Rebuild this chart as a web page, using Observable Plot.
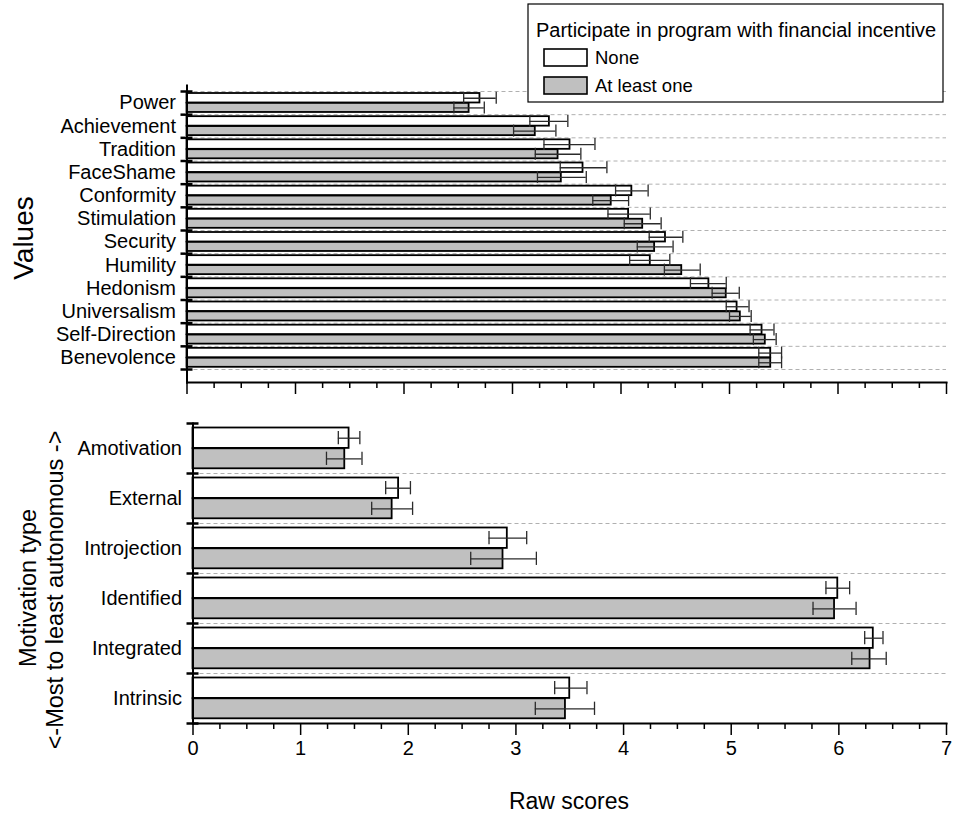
<!DOCTYPE html>
<html><head><meta charset="utf-8">
<script src="https://cdn.jsdelivr.net/npm/d3@7"></script>
<script src="https://cdn.jsdelivr.net/npm/@observablehq/plot@0.6"></script>
<style>
body{margin:0;background:#fff;}
#wrap{position:relative;width:955px;height:818px;overflow:hidden;font-family:"Liberation Sans",Arial,sans-serif;background:#fff;}
#top,#bottom,#overlay{position:absolute;left:0;}
#top{top:0;} #bottom{top:400px;} #overlay{top:0;pointer-events:none;}
</style></head><body>
<div id="wrap"><div id="top"></div><div id="bottom"></div><svg id="overlay" width="955" height="818"></svg></div>
<script>
// ---- data ----
const groups = ["None", "At least one"];
const groupFills = ["#ffffff", "#c0c0c0"];
const legendTitle = "Participate in program with financial incentive";

const valueCats = ["Power","Achievement","Tradition","FaceShame","Conformity","Stimulation","Security","Humility","Hedonism","Universalism","Self-Direction","Benevolence"];
const valueNone   = [2.70, 3.34, 3.53, 3.65, 4.10, 4.07, 4.41, 4.27, 4.81, 5.07, 5.30, 5.38];
const valueNoneLo = [2.55, 3.16, 3.29, 3.44, 3.95, 3.88, 4.26, 4.08, 4.64, 4.97, 5.19, 5.27];
const valueNoneHi = [2.85, 3.51, 3.76, 3.87, 4.25, 4.27, 4.57, 4.45, 4.97, 5.18, 5.41, 5.48];
const valueAny    = [2.60, 3.21, 3.42, 3.45, 3.91, 4.20, 4.31, 4.56, 4.97, 5.10, 5.33, 5.38];
const valueAnyLo  = [2.46, 3.01, 3.21, 3.23, 3.74, 4.03, 4.15, 4.40, 4.84, 5.00, 5.22, 5.27];
const valueAnyHi  = [2.74, 3.40, 3.63, 3.68, 4.07, 4.37, 4.48, 4.73, 5.09, 5.20, 5.43, 5.48];

const motivCats = ["Amotivation","External","Introjection","Identified","Integrated","Intrinsic"];
const motivNone   = [1.45, 1.91, 2.92, 5.99, 6.32, 3.50];
const motivNoneLo = [1.35, 1.79, 2.75, 5.88, 6.24, 3.36];
const motivNoneHi = [1.55, 2.02, 3.10, 6.10, 6.41, 3.66];
const motivAny    = [1.41, 1.85, 2.88, 5.96, 6.29, 3.46];
const motivAnyLo  = [1.24, 1.66, 2.58, 5.76, 6.12, 3.18];
const motivAnyHi  = [1.57, 2.04, 3.19, 6.16, 6.44, 3.73];

const xMajorTicks = [0, 1, 2, 3, 4, 5, 6, 7];
const xMinorTicks = d3.range(0, 7.001, 0.25).filter(v => !Number.isInteger(v));

const topTitle = "Values";
const bottomTitle1 = "Motivation type";
const bottomTitle2 = "<-Most to least autonomous ->";
const xTitle = "Raw scores";

// ---- helpers ----
const rows = (cats, v, lo, hi) => cats.map((c, i) => ({cat: c, v: v[i], lo: lo[i], hi: hi[i]}));
const FONT = '"Liberation Sans", Arial, sans-serif';
const grid = {stroke: "#b0b0b0", strokeDasharray: "4,3", strokeWidth: 1};
const errStyle = {stroke: "#2b2b2b", strokeWidth: 1.3};

function panel({cats, none, any, width, height, marginLeft, marginTop, marginBottom, yRange,
                padEdge, capH, showTickLabels, gridAll}) {
  const bw = (yRange[1] - yRange[0]) / cats.length;
  const half = bw / 2;
  const wTop = padEdge, wBot = half - 0.1;
  const gTop = half + 0.3, gBot = bw - padEdge - 0.2;
  const wC = (wTop + wBot) / 2, gC = (gTop + gBot) / 2;
  const capMarks = (data, c) => [
    Plot.tickX(data, {x: "lo", y: "cat", insetTop: c - capH / 2, insetBottom: bw - c - capH / 2, ...errStyle}),
    Plot.tickX(data, {x: "hi", y: "cat", insetTop: c - capH / 2, insetBottom: bw - c - capH / 2, ...errStyle})
  ];
  const gridCats = gridAll ? cats : cats.slice(1);
  const marks = [
    Plot.ruleY(gridCats, {dy: -half, ...grid}),
    ...(gridAll ? [Plot.ruleY([cats[cats.length - 1]], {dy: half, ...grid})] : []),
    Plot.barX(none, {y: "cat", x1: 0, x2: "v", fill: groupFills[0], stroke: "black", strokeWidth: 1.8, insetTop: wTop, insetBottom: bw - wBot}),
    Plot.barX(any, {y: "cat", x1: 0, x2: "v", fill: groupFills[1], stroke: "black", strokeWidth: 1.8, insetTop: gTop, insetBottom: bw - gBot}),
    Plot.ruleY(none, {y: "cat", x1: "lo", x2: "hi", dy: wC - half, ...errStyle}),
    Plot.ruleY(any, {y: "cat", x1: "lo", x2: "hi", dy: gC - half, ...errStyle}),
    ...capMarks(none, wC),
    ...capMarks(any, gC),
    Plot.frame({anchor: "left", strokeWidth: 2}),
    Plot.frame({anchor: "bottom", strokeWidth: 2}),
    Plot.ruleY(cats, {dy: -half, x1: 0, x2: 0, insetLeft: -6, insetRight: -6, stroke: "black", strokeWidth: 2.5}),
    Plot.ruleY([cats[cats.length - 1]], {dy: half, x1: 0, x2: 0, insetLeft: -6, insetRight: -6, stroke: "black", strokeWidth: 2.5}),
    Plot.axisX({ticks: xMajorTicks, tickSize: 12, tickPadding: 5, strokeWidth: 1.5, label: null,
                tickFormat: showTickLabels ? (d => String(d)) : (() => "")}),
    Plot.axisX({ticks: xMinorTicks, tickSize: 6, strokeWidth: 1.5, label: null, tickFormat: () => ""}),
    Plot.axisY({tickSize: 0, tickPadding: 11, label: null})
  ];
  return Plot.plot({
    width, height, marginLeft, marginRight: 9, marginTop, marginBottom,
    style: {fontSize: "20px", fontFamily: FONT, background: "transparent", color: "black"},
    x: {domain: [0, 7]},
    y: {domain: cats, range: yRange, padding: 0, round: false},
    marks
  });
}

document.getElementById("top").append(panel({
  cats: valueCats,
  none: rows(valueCats, valueNone, valueNoneLo, valueNoneHi),
  any: rows(valueCats, valueAny, valueAnyLo, valueAnyHi),
  width: 955, height: 400, marginLeft: 186.5, marginTop: 85, marginBottom: 18,
  yRange: [91, 369], padEdge: 2, capH: 12, showTickLabels: false, gridAll: true
}));

document.getElementById("bottom").append(panel({
  cats: motivCats,
  none: rows(motivCats, motivNone, motivNoneLo, motivNoneHi),
  any: rows(motivCats, motivAny, motivAnyLo, motivAnyHi),
  width: 955, height: 418, marginLeft: 192.5, marginTop: 23, marginBottom: 95,
  yRange: [23, 323], padEdge: 4.5, capH: 13.3, showTickLabels: true, gridAll: false
}));

// ---- overlay: axis titles + legend ----
const ov = d3.select("#overlay").style("font-family", FONT);
ov.append("text").attr("transform", "translate(33,238) rotate(-90)").attr("text-anchor", "middle")
  .attr("font-size", 28).text(topTitle);
ov.append("text").attr("transform", "translate(36,588) rotate(-90)").attr("text-anchor", "middle")
  .attr("font-size", 23.5).text(bottomTitle1);
ov.append("text").attr("transform", "translate(63,590) rotate(-90)").attr("text-anchor", "middle")
  .attr("font-size", 23.5).text(bottomTitle2);
ov.append("text").attr("x", 569).attr("y", 809).attr("text-anchor", "middle")
  .attr("font-size", 23).text(xTitle);

const lg = ov.append("g");
lg.append("rect").attr("x", 528).attr("y", 4).attr("width", 415).attr("height", 98)
  .attr("fill", "white").attr("stroke", "black").attr("stroke-width", 1.2);
lg.append("text").attr("x", 536).attr("y", 37).attr("font-size", 20).text(legendTitle);
groups.forEach((g, i) => {
  const y0 = 49 + i * 28;
  lg.append("rect").attr("x", 544).attr("y", y0).attr("width", 43).attr("height", 17)
    .attr("fill", groupFills[i]).attr("stroke", "black").attr("stroke-width", 1.6);
  lg.append("text").attr("x", 595).attr("y", y0 + 15).attr("font-size", 18.5).text(g);
});
</script>
</body></html>
